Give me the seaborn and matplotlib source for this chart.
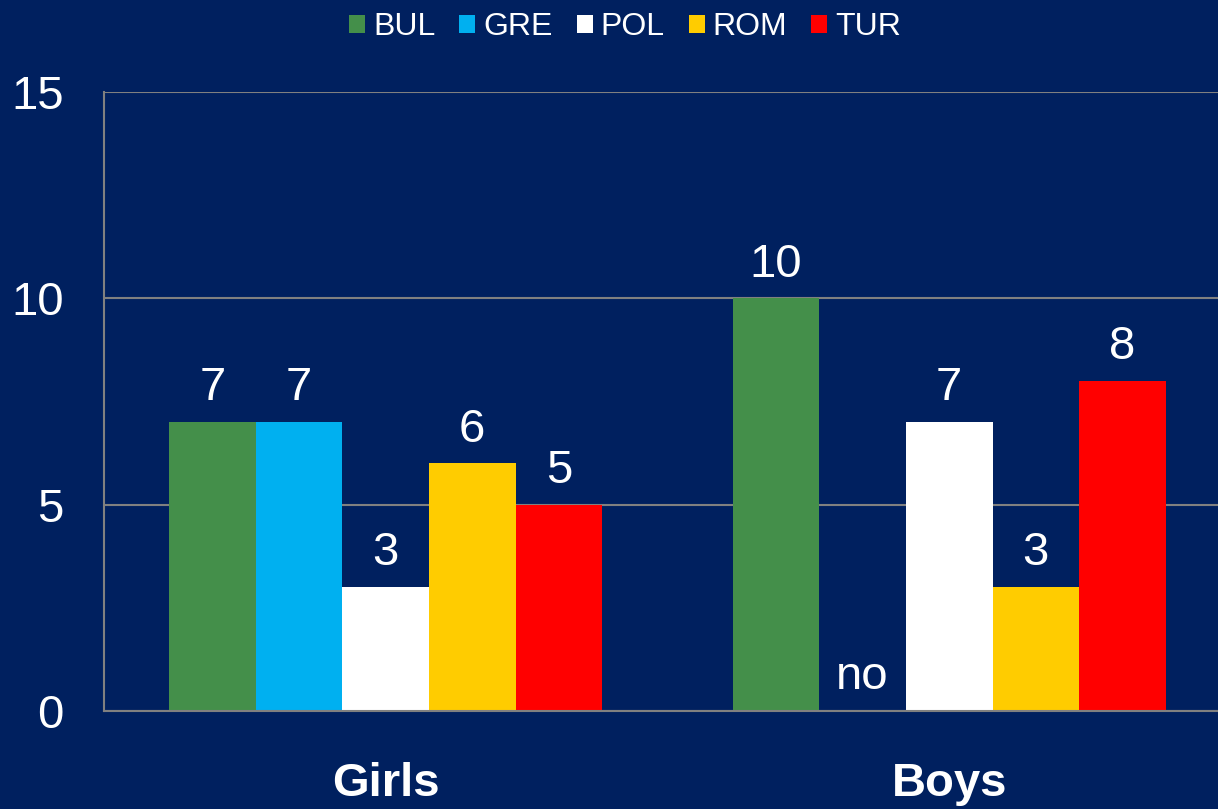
import numpy as np
import pandas as pd
import matplotlib
matplotlib.use("Agg")
import matplotlib.pyplot as plt
import seaborn as sns

groups = ["Girls", "Boys"]
countries = ["BUL", "GRE", "POL", "ROM", "TUR"]
girls = [7, 7, 3, 6, 5]
boys = [10, np.nan, 7, 3, 8]   # GRE boys: no data
colors = ["#448F4A", "#00B0F0", "#FFFFFF", "#FFCC00", "#FF0000"]

bg = "#00205F"

rows = []
for c, g, b in zip(countries, girls, boys):
    rows.append({"group": "Girls", "country": c, "value": g})
    rows.append({"group": "Boys", "country": c, "value": b})
df = pd.DataFrame(rows)
df["plot_value"] = df["value"].fillna(0)

sns.set_style("white")
plt.rcParams["font.family"] = ["Liberation Sans", "DejaVu Sans"]

fig = plt.figure(figsize=(12.18, 8.09), dpi=100, facecolor=bg)
ax = fig.add_axes([104 / 1218, 1 - 711 / 809, 1127 / 1218, 619 / 809])
ax.set_facecolor(bg)

sns.barplot(data=df, x="group", y="plot_value", hue="country", order=groups,
            hue_order=countries, palette=colors, saturation=1, width=0.768,
            linewidth=0, ax=ax, legend=True)

# value labels, "no" where data is missing
for cont, c in zip(ax.containers, countries):
    labs = []
    for grp in groups:
        v = df.loc[(df.group == grp) & (df.country == c), "value"].iloc[0]
        labs.append("no" if pd.isna(v) else f"{v:.0f}")
    ax.bar_label(cont, labels=labs, padding=8.5, color="white", fontsize=34)

ax.set_xlim(-0.5, 1.5)
ax.set_ylim(0, 15)
ax.set_yticks([0, 5, 10, 15])
ax.yaxis.grid(True, color="#808080", linewidth=1.5)
ax.set_axisbelow(True)
for s in ["top", "right"]:
    ax.spines[s].set_visible(False)
for s in ["left", "bottom"]:
    ax.spines[s].set_color("#808080")
    ax.spines[s].set_linewidth(1.5)
ax.tick_params(axis="y", length=0, pad=29, labelsize=34, labelcolor="white")
ax.tick_params(axis="x", length=0, pad=37, labelsize=34, labelcolor="white")
for t in ax.get_xticklabels():
    t.set_fontweight("bold")
ax.set_xlabel("")
ax.set_ylabel("")

handles, labels = ax.get_legend_handles_labels()
ax.get_legend().remove()
fig.legend(handles, labels, loc="center", bbox_to_anchor=(625 / 1218, 1 - 27 / 809),
           ncol=5, frameon=False, fontsize=23, labelcolor="white",
           handlelength=0.5, handleheight=0.5, handletextpad=0.25,
           columnspacing=0.75)

fig.savefig("out.png", dpi=100, facecolor=bg)
